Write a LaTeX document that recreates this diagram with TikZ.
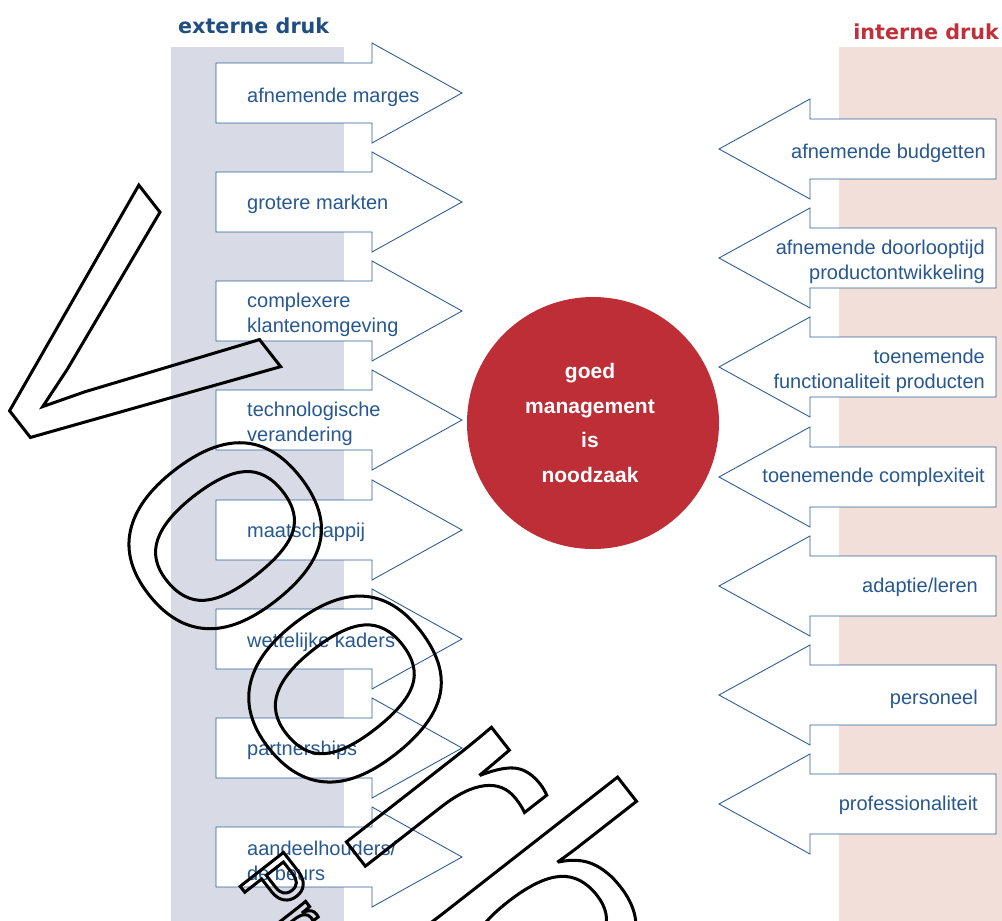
\documentclass[tikz,border=0pt]{standalone}
\usepackage{fontspec}
\setmainfont{Liberation Sans}
\newfontfamily\kopfont{DejaVu Sans}
\newfontfamily\merkfont[Kerning=Off]{Liberation Sans}
\definecolor{bandblauw}{HTML}{D8DBE6}
\definecolor{bandroze}{HTML}{F2DFD9}
\definecolor{pijlblauw}{HTML}{2E5F95}
\definecolor{tekstblauw}{HTML}{275890}
\definecolor{kopblauw}{HTML}{1F4E80}
\definecolor{koprood}{HTML}{C0303A}
\definecolor{cirkelrood}{HTML}{BE2E37}
% outline text (stroke only) for the watermark
\newcommand{\omtrek}[1]{\special{pdf:literal direct 0 G 3 w 1 Tr}#1\special{pdf:literal direct 0 Tr}}

\begin{document}
\begin{tikzpicture}[x=1pt, y=-1pt,
    pijl/.style={draw=pijlblauw, fill=white, line width=0.9pt, line join=miter},
    links/.style={anchor=west, align=left, inner sep=0pt, yshift=-4pt, text=tekstblauw, font=\fontsize{20}{25.5}\selectfont},
    rechts/.style={anchor=east, align=right, inner sep=0pt, yshift=-4pt, text=tekstblauw, font=\fontsize{20}{25.5}\selectfont},
    kop/.style={inner sep=0pt, font=\kopfont\bfseries\fontsize{20.7}{24}\selectfont},
    merk/.style={anchor=base west, inner sep=0pt, rotate=-52}]
        \useasboundingbox (0,0) rectangle (1002,921);
        \clip (0,0) rectangle (1002,921);
        % Background bands
            \fill[bandblauw] (171,47) rectangle (344,921);
            \fill[bandroze] (839,47) rectangle (1002,921);
        % Headings
            \node[kop, anchor=base west, text=kopblauw] (extern) at (178,33) {externe druk};
            \node[kop, anchor=base east, text=koprood] (intern) at (999,39) {interne druk};
        % Arrows pointing right: external pressure
            \draw[pijl] (216,63) -- (372,63) -- (372,43) -- (462,93) -- (372,143) -- (372,123) -- (216,123) -- cycle;
            \draw[pijl] (216,172) -- (372,172) -- (372,152) -- (462,202) -- (372,252) -- (372,232) -- (216,232) -- cycle;
            \draw[pijl] (216,281) -- (372,281) -- (372,261) -- (462,311) -- (372,361) -- (372,341) -- (216,341) -- cycle;
            \draw[pijl] (216,390) -- (372,390) -- (372,370) -- (462,420) -- (372,470) -- (372,450) -- (216,450) -- cycle;
            \draw[pijl] (216,500) -- (372,500) -- (372,480) -- (462,530) -- (372,580) -- (372,560) -- (216,560) -- cycle;
            \draw[pijl] (216,609) -- (372,609) -- (372,589) -- (462,639) -- (372,689) -- (372,669) -- (216,669) -- cycle;
            \draw[pijl] (216,718) -- (372,718) -- (372,698) -- (462,748) -- (372,798) -- (372,778) -- (216,778) -- cycle;
            \draw[pijl] (216,827) -- (372,827) -- (372,807) -- (462,857) -- (372,907) -- (372,887) -- (216,887) -- cycle;
            \node[links] (marges)    at (247,93)  {afnemende marges};
            \node[links] (markten)   at (247,200) {grotere markten};
            \node[links] (klanten)   at (247,311) {complexere\\klantenomgeving};
            \node[links] (techniek)  at (247,420) {technologische\\verandering};
            \node[links] (maatsch)   at (247,528) {maatschappij};
            \node[links] (kaders)    at (247,638) {wettelijke kaders};
            \node[links] (partners)  at (247,746) {partnerships};
            \node[links] (beurs)     at (247,857) {aandeelhouders/\\de beurs};
        % Arrows pointing left: internal pressure
            \draw[pijl] (996,119) -- (810,119) -- (810,99) -- (719,149) -- (810,199) -- (810,179) -- (996,179) -- cycle;
            \draw[pijl] (996,228) -- (810,228) -- (810,208) -- (719,258) -- (810,308) -- (810,288) -- (996,288) -- cycle;
            \draw[pijl] (996,337) -- (810,337) -- (810,317) -- (719,367) -- (810,417) -- (810,397) -- (996,397) -- cycle;
            \draw[pijl] (996,447) -- (810,447) -- (810,427) -- (719,477) -- (810,527) -- (810,507) -- (996,507) -- cycle;
            \draw[pijl] (996,556) -- (810,556) -- (810,536) -- (719,586) -- (810,636) -- (810,616) -- (996,616) -- cycle;
            \draw[pijl] (996,665) -- (810,665) -- (810,645) -- (719,695) -- (810,745) -- (810,725) -- (996,725) -- cycle;
            \draw[pijl] (996,774) -- (810,774) -- (810,754) -- (719,804) -- (810,854) -- (810,834) -- (996,834) -- cycle;
            \node[rechts] (budget)   at (986,149) {afnemende budgetten};
            \node[rechts] (doorloop) at (985,258) {afnemende doorlooptijd\\productontwikkeling};
            \node[rechts] (functie)  at (985,367) {toenemende\\functionaliteit producten};
            \node[rechts] (complex)  at (985,473) {toenemende complexiteit};
            \node[rechts] (leren)    at (978,583) {adaptie/leren};
            \node[rechts] (personeel) at (978,695) {personeel};
            \node[rechts] (prof)     at (978,801) {professionaliteit};
        % Centre
            \node[circle, fill=cirkelrood, minimum size=252pt, inner sep=0pt] (kern) at (593,423) {};
            \node[align=center, inner sep=0pt, text=white, font=\bfseries\fontsize{21}{34.7}\selectfont] (kerntekst) at (590,423) {goed\\management\\is\\noodzaak};
        % Watermark
            \node[merk, font=\merkfont\fontsize{350}{350}\selectfont] (voorb) at (-52,332) {\omtrek{Voorb}};
            \node[merk, font=\merkfont\fontsize{80}{80}\selectfont] (pr) at (236,881) {\omtrek{Pr}};
        \end{tikzpicture}
\end{document}
